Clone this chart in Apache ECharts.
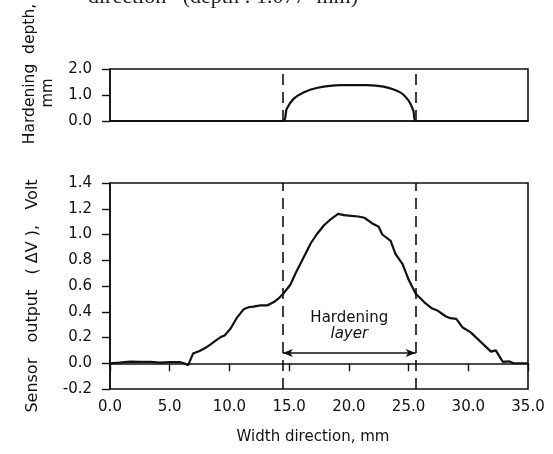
<!DOCTYPE html>
<html>
<head>
<meta charset="utf-8">
<script src="https://cdn.jsdelivr.net/npm/echarts@6/dist/echarts.min.js"></script>
<style>
  html, body { margin: 0; padding: 0; background: #fff; }
  #chart { width: 553px; height: 454px; }
</style>
</head>
<body>
<div id="chart"></div>
<script>
// width position across the specimen, mm
const widthMm = [0, 0.8, 1.7, 2.5, 3.4, 4.2, 5.0, 5.9, 6.2, 6.55, 6.75, 6.95, 7.5, 8.0, 8.4, 8.9, 9.3, 9.6,
  10.1, 10.6, 11.2, 11.6, 12.0, 12.6, 13.2, 13.8, 14.2, 14.5, 15.1, 15.6, 16.2, 16.8, 17.3, 17.9, 18.5,
  19.1, 19.6, 20.2, 20.8, 21.3, 21.9, 22.5, 22.8, 23.5, 23.9, 24.5, 25.0, 25.6, 26.3, 26.9, 27.4, 28.1,
  28.5, 29.0, 29.5, 30.2, 31.0, 31.9, 32.3, 32.7, 32.9, 33.4, 33.8, 34.4, 35.0]
// sensor output (dV), Volt
const sensorV = [0.0, 0.005, 0.012, 0.01, 0.01, 0.005, 0.008, 0.008, 0.0, -0.015, 0.03, 0.075, 0.095, 0.12,
  0.145, 0.18, 0.205, 0.215, 0.27, 0.35, 0.42, 0.435, 0.44, 0.45, 0.45, 0.48, 0.51, 0.54, 0.61, 0.71, 0.82,
  0.93, 1.0, 1.07, 1.12, 1.16, 1.15, 1.145, 1.14, 1.13, 1.09, 1.06, 1.0, 0.95, 0.85, 0.77, 0.65, 0.54, 0.475,
  0.43, 0.41, 0.365, 0.35, 0.345, 0.28, 0.24, 0.17, 0.09, 0.1, 0.04, 0.01, 0.015, 0.0, 0.0, 0.0]

// hardening depth profile
const depthWidthMm = [0, 14.47, 14.8, 15.37, 16.2, 17.3, 19.3, 21.5, 22.9, 24.3, 25.0, 25.4, 25.6, 35]
const depthMm = [0, 0, 0.47, 0.85, 1.1, 1.27, 1.38, 1.38, 1.32, 1.1, 0.78, 0.4, 0, 0]

// edges of the hardening layer, mm
const layerEdges = [14.47, 25.6]
const arrowLevel = 0.08

const xTicks = [0, 5, 10, 15, 20, 25, 30, 35]
const depthTicks = [0, 1, 2]
const voltTicks = [-0.2, 0, 0.2, 0.4, 0.6, 0.8, 1.0, 1.2, 1.4]

const FONT = "'DejaVu Sans', sans-serif"
const INK = "#111"

const fmt = (v) => (v < 0 ? "-" : "") + Math.abs(v).toFixed(1)

const dashed = {
  symbol: "none",
  silent: true,
  label: { show: false },
  lineStyle: { color: INK, width: 1.6, type: [11, 7] },
}

const axisBase = {
  axisLine: { show: true, lineStyle: { color: INK, width: 1.6 } },
  axisTick: { show: true, inside: false, length: 8, lineStyle: { color: INK, width: 1.4 } },
  splitLine: { show: false },
  axisLabel: { color: INK, fontFamily: FONT, fontSize: 15, formatter: fmt },
}

const chart = echarts.init(document.getElementById("chart"), null, { renderer: "canvas" })

const option = {
  animation: false,
  backgroundColor: "#fff",
  grid: [
    { left: 110, right: 25, top: 69, height: 52, show: true, borderColor: INK, borderWidth: 1.6 },
    { left: 110, right: 25, top: 183, height: 206, show: true, borderColor: INK, borderWidth: 1.6 },
  ],
  xAxis: [
    {
      ...axisBase,
      gridIndex: 0,
      type: "value",
      min: xTicks[0],
      max: xTicks[xTicks.length - 1],
      interval: 5,
      axisTick: { show: false },
      axisLabel: { show: false },
    },
    {
      ...axisBase,
      gridIndex: 1,
      type: "value",
      min: xTicks[0],
      max: xTicks[xTicks.length - 1],
      interval: 5,
      axisLabel: { ...axisBase.axisLabel, margin: 11 },
      name: "Width direction, mm",
      nameLocation: "middle",
      nameGap: 41,
      nameTextStyle: { color: INK, fontFamily: FONT, fontSize: 15, padding: [0, 12, 0, 0] },
    },
  ],
  yAxis: [
    {
      ...axisBase,
      gridIndex: 0,
      type: "value",
      min: depthTicks[0],
      max: depthTicks[depthTicks.length - 1],
      interval: 1,
      axisLabel: { ...axisBase.axisLabel, margin: 18 },
    },
    {
      ...axisBase,
      gridIndex: 1,
      type: "value",
      min: voltTicks[0],
      max: voltTicks[voltTicks.length - 1],
      interval: 0.2,
      axisLabel: { ...axisBase.axisLabel, margin: 18 },
    },
  ],
  series: [
    {
      name: "Hardening depth",
      type: "line",
      xAxisIndex: 0,
      yAxisIndex: 0,
      data: depthWidthMm.map((x, i) => [x, depthMm[i]]),
      smooth: 0.35,
      symbol: "none",
      lineStyle: { color: INK, width: 2.2 },
      markLine: { ...dashed, data: layerEdges.map((x) => ({ xAxis: x })) },
    },
    {
      name: "Sensor output",
      type: "line",
      xAxisIndex: 1,
      yAxisIndex: 1,
      data: widthMm.map((x, i) => [x, sensorV[i]]),
      symbol: "none",
      lineStyle: { color: INK, width: 2.2 },
      markLine: {
        ...dashed,
        data: [
          ...layerEdges.map((x) => ({ xAxis: x })),
          [
            { coord: [layerEdges[0], arrowLevel], symbol: "arrow", symbolSize: [6, 10],
              lineStyle: { type: "solid", width: 1.6, color: INK } },
            { coord: [layerEdges[1], arrowLevel], symbol: "arrow", symbolSize: [6, 10] },
          ],
        ],
      },
    },
  ],
}

chart.setOption(option)

// text labels placed from the axes' own scales
const mid = (layerEdges[0] + layerEdges[1]) / 2
const pHard = chart.convertToPixel({ xAxisIndex: 1, yAxisIndex: 1 }, [mid, 0.35])
const pLayer = chart.convertToPixel({ xAxisIndex: 1, yAxisIndex: 1 }, [mid, 0.225])

chart.setOption({
  graphic: [
    {
      type: "text",
      x: 88,
      y: 8,
      style: { text: "direction   (depth : 1.077  mm)", font: "22px 'Liberation Serif', serif", fill: "#222", verticalAlign: "bottom" },
    },
    {
      type: "text",
      x: 33,
      y: 296,
      rotation: Math.PI / 2,
      style: { text: "Sensor   output   ( \u0394V ),   Volt", font: "16px " + FONT, fill: INK, align: "center", verticalAlign: "middle" },
    },
    {
      type: "text",
      x: 30,
      y: 74,
      rotation: Math.PI / 2,
      style: { text: "Hardening  depth,", font: "15.5px " + FONT, fill: INK, align: "center", verticalAlign: "middle" },
    },
    {
      type: "text",
      x: 48,
      y: 93,
      rotation: Math.PI / 2,
      style: { text: "mm", font: "15px " + FONT, fill: INK, align: "center", verticalAlign: "middle" },
    },
    {
      type: "text",
      x: pHard[0],
      y: pHard[1],
      style: { text: "Hardening", font: "15px " + FONT, fill: INK, align: "center", verticalAlign: "middle" },
    },
    {
      type: "text",
      x: pLayer[0],
      y: pLayer[1],
      style: { text: "layer", font: "italic 15px " + FONT, fill: INK, align: "center", verticalAlign: "middle" },
    },
  ],
})

window.addEventListener("resize", () => chart.resize())
</script>
</body>
</html>
